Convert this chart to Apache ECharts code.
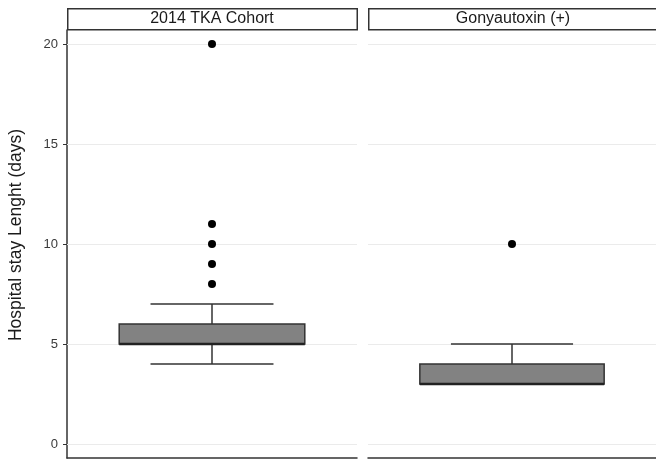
<!DOCTYPE html>
<html>
<head>
<meta charset="utf-8">
<script src="https://cdn.jsdelivr.net/npm/echarts@6/dist/echarts.min.js"></script>
<style>html,body{margin:0;padding:0;background:#fff}#c{width:656px;height:462px}</style>
</head>
<body>
<div id="c"></div>
<script>
// ---- data ----
var panels = ['2014 TKA Cohort', 'Gonyautoxin (+)'];
// [lower whisker, Q1, median, Q3, upper whisker]
var boxStats = [
  [4, 5, 5, 6, 7],
  [3, 3, 3, 4, 5]
];
var outliers = [
  [8, 9, 10, 11, 20],
  [10]
];
var yTicks = [0, 5, 10, 15, 20];
var yTitle = 'Hospital stay Lenght (days)';

// ---- chart ----
var FONT = '"Liberation Sans", Arial, sans-serif';
var chart = echarts.init(document.getElementById('c'), null, {renderer: 'canvas'});
var gridDefs = [
  {left: 67, top: 30, width: 290, height: 428},
  {left: 368, top: 30, width: 290, height: 428}
];
var grids = [], xAxes = [], yAxes = [], series = [], graphics = [];
panels.forEach(function (name, i) {
  grids.push(gridDefs[i]);
  xAxes.push({
    type: 'category', gridIndex: i, data: [name],
    axisLine: {show: true, onZero: false, lineStyle: {color: '#333', width: 1.5}},
    axisTick: {show: false}, axisLabel: {show: false}, splitLine: {show: false}
  });
  yAxes.push({
    type: 'value', gridIndex: i, min: -0.7, max: 20.7,
    name: i === 0 ? yTitle : '', nameLocation: 'middle', nameRotate: 90, nameGap: 42,
    nameTextStyle: {fontFamily: FONT, fontSize: 17.5, color: '#1a1a1a', padding: [0, 0, 0, 18]},
    axisLine: {show: i === 0, lineStyle: {color: '#333', width: 1.5}},
    axisTick: {show: i === 0, customValues: yTicks, length: 4, lineStyle: {color: '#333'}},
    axisLabel: {show: i === 0, customValues: yTicks, fontFamily: FONT, fontSize: 13, color: '#3a3a3a', margin: 9},
    splitLine: {show: false}
  });
  series.push({
    type: 'custom', xAxisIndex: i, yAxisIndex: i, silent: true,
    data: [[0].concat(boxStats[i])],
    renderItem: function (params, api) {
      var lo = api.value(1), q1 = api.value(2), med = api.value(3), q3 = api.value(4), hi = api.value(5);
      var band = api.size([1, 0])[0];
      var cx = api.coord([0, q1])[0];
      var hb = band * 0.32, hc = band * 0.212;
      var yLo = api.coord([0, lo])[1], yQ1 = api.coord([0, q1])[1], yMed = api.coord([0, med])[1],
          yQ3 = api.coord([0, q3])[1], yHi = api.coord([0, hi])[1];
      var ls = {stroke: '#333', lineWidth: 1.5};
      var ch = [];
      if (yHi < yQ3) {
        ch.push({type: 'line', shape: {x1: cx, y1: yQ3, x2: cx, y2: yHi}, style: ls});
        ch.push({type: 'line', shape: {x1: cx - hc, y1: yHi, x2: cx + hc, y2: yHi}, style: ls});
      }
      if (yLo > yQ1) {
        ch.push({type: 'line', shape: {x1: cx, y1: yQ1, x2: cx, y2: yLo}, style: ls});
        ch.push({type: 'line', shape: {x1: cx - hc, y1: yLo, x2: cx + hc, y2: yLo}, style: ls});
      }
      ch.push({type: 'rect', shape: {x: cx - hb, y: yQ3, width: 2 * hb, height: yQ1 - yQ3},
        style: {fill: '#828282', stroke: '#333', lineWidth: 1.5}});
      ch.push({type: 'line', shape: {x1: cx - hb, y1: yMed, x2: cx + hb, y2: yMed}, style: {stroke: '#222', lineWidth: 2.6}});
      return {type: 'group', children: ch};
    },
    z: 3
  });
  series.push({
    type: 'scatter', xAxisIndex: i, yAxisIndex: i, silent: true,
    data: outliers[i].map(function (v) { return [0, v]; }),
    symbol: 'circle', symbolSize: 8, itemStyle: {color: '#000', opacity: 1}, z: 4,
    markLine: {
      silent: true, symbol: 'none', label: {show: false}, animation: false,
      lineStyle: {color: '#ebebeb', width: 1, type: 'solid'},
      data: yTicks.map(function (v) { return {yAxis: v}; }), z: 1
    }
  });
  graphics.push({
    type: 'rect', left: gridDefs[i].left, top: 8,
    shape: {width: gridDefs[i].width - 0.5, height: 21},
    style: {fill: '#fff', stroke: '#333', lineWidth: 1.5}
  });
  graphics.push({
    type: 'text', x: gridDefs[i].left + 145, y: 19,
    style: {text: name, font: '16px ' + FONT, fill: '#1a1a1a', align: 'center', verticalAlign: 'middle'}
  });
});

chart.setOption({
  animation: false,
  grid: grids, xAxis: xAxes, yAxis: yAxes, series: series, graphic: graphics
});
</script>
</body>
</html>
